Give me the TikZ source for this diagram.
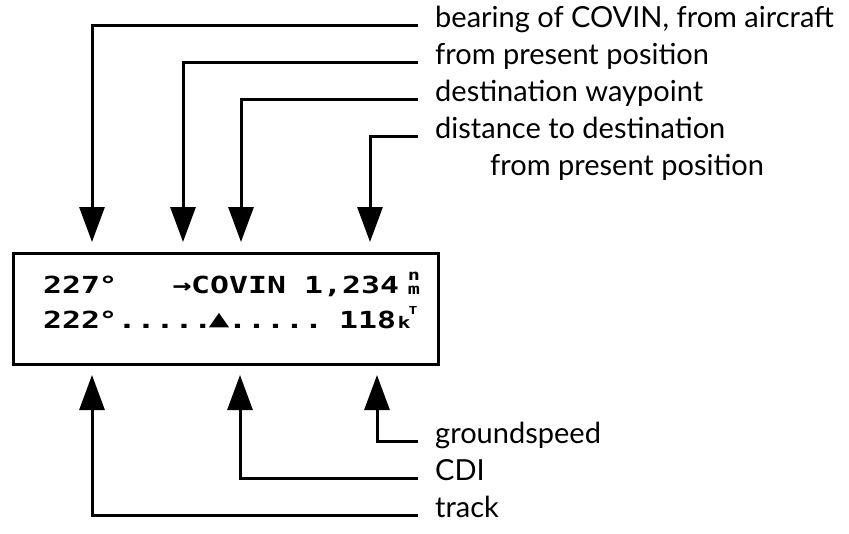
\documentclass[tikz,border=0pt]{standalone}
\usepackage{fontspec}
\usetikzlibrary{arrows.meta}
\newfontfamily\labfont{Lato}
\newfontfamily\lcdfont[FakeStretch=1.34]{DejaVu Sans Mono}
\newfontfamily\symfont[FakeStretch=1.4]{DejaVu Sans}
\tikzset{
  lab/.style={anchor=west, inner sep=0pt, font=\labfont\fontsize{29}{32}\selectfont, text height=0.72em, text depth=0.22em},
  conn/.style={line width=3pt, -{Triangle[width=25pt,length=35pt]}},
  lcd/.style={anchor=base west, inner sep=0pt, font=\lcdfont\bfseries\fontsize{23.5}{26}\selectfont},
  lcdsm/.style={inner sep=0pt, font=\lcdfont\bfseries\fontsize{15}{15}\selectfont, text height=0.55em, text depth=0pt},
  dispbox/.style={draw, line width=3pt, minimum width=425pt, minimum height=111pt, inner sep=0pt}
}
\begin{document}
\begin{tikzpicture}[x=1pt,y=-1pt]
\useasboundingbox (0,0) rectangle (849,533);
% display
\node[dispbox] (disp) at (225.5,308.5) {};
% row 1
\node[lcd] (r1a) at (43,293) {227};
\node[lcd] (r1b) at (98.5,293) {°};
\node[lcd] (r1c) at (172.5,293) {→};
\node[lcd] (r1d) at (191,293) {COVIN};
\node[lcd] (r1e) at (304,293) {1,234};
\node[lcdsm, anchor=base] (r1n) at (414,280) {n};
\node[lcdsm, anchor=base] (r1m) at (414,294) {m};
% row 2
\node[lcd] (r2a) at (43,328) {222};
\node[lcd] (r2b) at (98.5,328) {°.....};
\node[inner sep=0pt, font=\symfont\fontsize{19}{19}\selectfont, text height=0.6em, text depth=0pt, anchor=base] (r2t) at (219,325) {▲};
\node[lcd] (r2c) at (228,328) {.....};
\node[lcd] (r2d) at (339,328) {118};
\node[lcdsm, anchor=base west, font=\lcdfont\bfseries\fontsize{16}{16}\selectfont] (r2k) at (397.5,328) {k};
\node[lcdsm, font=\lcdfont\bfseries\fontsize{11}{11}\selectfont] (r2T) at (413,312) {T};
% labels
\node[lab] (l1) at (435,25) {bearing of COVIN, from aircraft};
\node[lab] (l2) at (435,62) {from present position};
\node[lab] (l3) at (435,99) {destination waypoint};
\node[lab] (l4) at (435,136) {distance to destination};
\node[lab] (l4b) at (490,173) {from present position};
\node[lab] (b1) at (435,441) {groundspeed};
\node[lab] (b2) at (435,478) {CDI};
\node[lab] (b3) at (435,515) {track};
% arrow tips
\coordinate (t1) at (92,242);
\coordinate (t2) at (183,242);
\coordinate (t3) at (241,242);
\coordinate (t4) at (370,242);
\coordinate (u1) at (377,375);
\coordinate (u2) at (240,375);
\coordinate (u3) at (92,375);
% connectors
\draw[conn] ([xshift=-17pt]l1.west) -| (t1);
\draw[conn] ([xshift=-17pt]l2.west) -| (t2);
\draw[conn] ([xshift=-17pt]l3.west) -| (t3);
\draw[conn] ([xshift=-17pt]l4.west) -| (t4);
\draw[conn] ([xshift=-17pt]b1.west) -| (u1);
\draw[conn] ([xshift=-17pt]b2.west) -| (u2);
\draw[conn] ([xshift=-17pt]b3.west) -| (u3);
\end{tikzpicture}
\end{document}
